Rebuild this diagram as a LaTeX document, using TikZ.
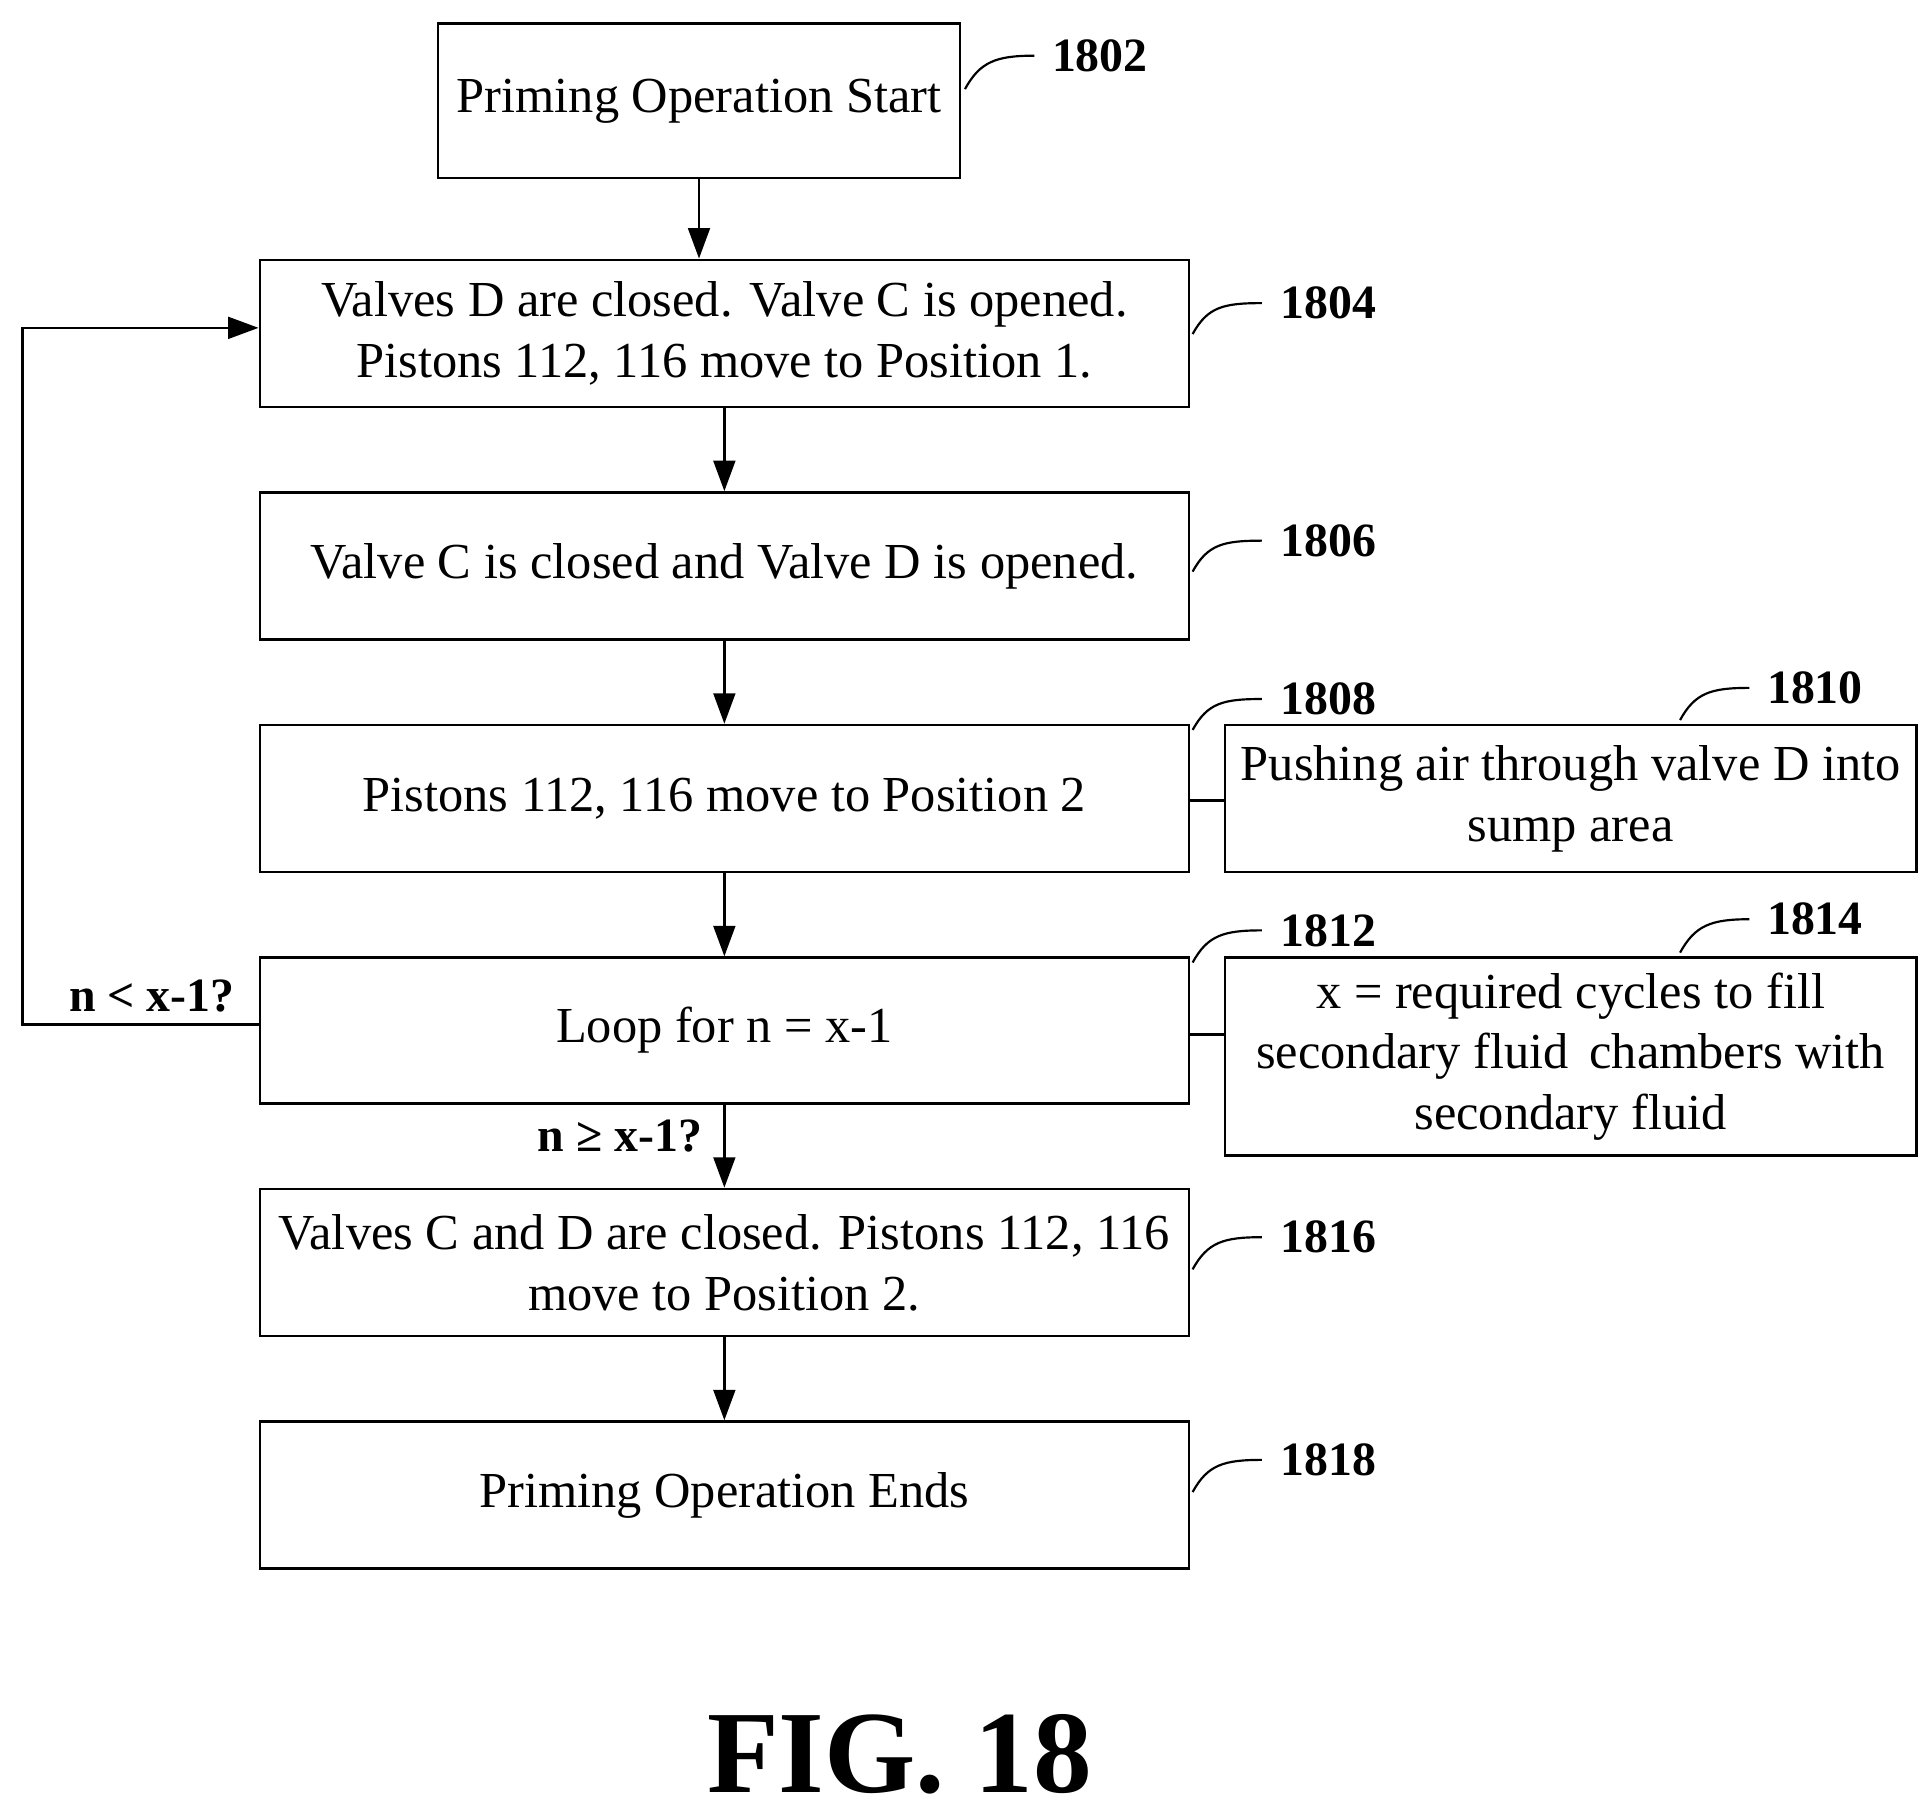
\documentclass[tikz,border=0pt]{standalone}
\usepackage{fontspec}
\setmainfont{Liberation Serif}
\usetikzlibrary{arrows.meta}
\begin{document}
\begin{tikzpicture}[x=0.02cm,y=-0.02cm,
 box/.style={draw,line width=1.2pt,inner sep=0pt,align=center,font=\fontsize{23.2}{28}\selectfont},
 arr/.style={-{Triangle[length=14pt,width=10pt]},line width=1.2pt},
 lbl/.style={anchor=west,font=\fontsize{22}{24}\selectfont\bfseries,inner sep=0pt},
 lead/.style={line width=1pt}]
\useasboundingbox (0,0) rectangle (1560,1468);
\newcommand{\bx}[6]{\node[box,minimum width=#4*0.02cm-1.2pt,minimum height=#5*0.02cm-1.2pt] (#1) at (#2,#3) {#6};}
\bx{b1802}{565}{81.5}{424}{127}{Priming Operation Start}
\bx{b1804}{585.5}{269.5}{753}{121}{Valves D are closed. Valve C is opened.\\Pistons 112, 116 move to Position 1.}
\bx{b1806}{585.5}{457.5}{753}{121}{Valve C is closed and Valve D is opened.}
\bx{b1808}{585.5}{645.5}{753}{121}{Pistons 112, 116 move to Position 2}
\bx{b1810}{1269.5}{645.5}{561}{121}{Pushing air through valve D into\\sump area}
\bx{b1812}{585.5}{833}{753}{120}{Loop for n = x-1}
\bx{b1814}{1269.5}{854}{561}{162}{x = required cycles to fill\\secondary fluid\, chambers with\\secondary fluid}
\bx{b1816}{585.5}{1020.5}{753}{121}{Valves C and D are closed. Pistons 112, 116\\move to Position 2.}
\bx{b1818}{585.5}{1208.5}{753}{121}{Priming Operation Ends}
\draw[arr] (b1802.south) -- (b1802.south |- b1804.north);
\draw[arr] (b1804) -- (b1806);
\draw[arr] (b1806) -- (b1808);
\draw[arr] (b1808) -- (b1812);
\draw[arr] (b1812) -- (b1816);
\draw[arr] (b1816) -- (b1818);
\coordinate (lA) at (18,828); \coordinate (lB) at (18,265);
\draw[arr] (b1812.west |- lA) -- (lA) -- (lB) -- (b1804.west |- lB);
\node[anchor=east,font=\fontsize{22}{24}\selectfont\bfseries,inner sep=0pt] (c1) at (190,805) {n < x-1?};
\node[anchor=east,font=\fontsize{22}{24}\selectfont\bfseries,inner sep=0pt] (c2) at (568,918) {n ≥ x-1?};
\draw[line width=1.2pt] (b1808.east |- 0,647) -- (b1810.west |- 0,647);
\draw[line width=1.2pt] (b1812.east |- 0,836) -- (b1814.west |- 0,836);
\newcommand{\ld}[4]{\draw[lead] (#1,#2) .. controls (#1+12,#2-22) and (#1+25,#4) .. (#1+56,#4);}
\ld{780}{72}{}{45}\node[lbl] (t1802) at (850,45) {1802};
\ld{964}{270}{}{245}\node[lbl] (t1804) at (1035,245) {1804};
\ld{964}{462}{}{437}\node[lbl] (t1806) at (1035,437) {1806};
\ld{964}{590}{}{565}\node[lbl] (t1808) at (1035,565) {1808};
\ld{1358}{582}{}{556}\node[lbl] (t1810) at (1428,556) {1810};
\ld{964}{778}{}{752}\node[lbl] (t1812) at (1035,752) {1812};
\ld{1358}{770}{}{743}\node[lbl] (t1814) at (1428,743) {1814};
\ld{964}{1026}{}{1000}\node[lbl] (t1816) at (1035,1000) {1816};
\ld{964}{1206}{}{1180}\node[lbl] (t1818) at (1035,1180) {1818};
\node[font=\fontsize{54}{60}\selectfont\bfseries,inner sep=0pt] (fig) at (727,1418) {FIG. 18};
\end{tikzpicture}
\end{document}
